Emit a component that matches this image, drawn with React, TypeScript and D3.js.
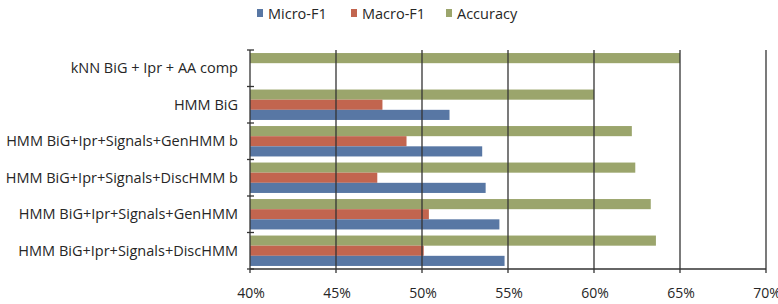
import React, { useEffect, useRef } from 'react';
import * as d3 from 'd3';

const categories = [
  'kNN BiG + Ipr + AA comp',
  'HMM BiG',
  'HMM BiG+Ipr+Signals+GenHMM b',
  'HMM BiG+Ipr+Signals+DiscHMM b',
  'HMM BiG+Ipr+Signals+GenHMM',
  'HMM BiG+Ipr+Signals+DiscHMM',
];
const seriesNames = ['Accuracy', 'Macro-F1', 'Micro-F1'];
const accuracy = [65.0, 60.0, 62.2, 62.4, 63.3, 63.6];
const macroF1 = [null, 47.7, 49.1, 47.4, 50.4, 50.1];
const microF1 = [null, 51.6, 53.5, 53.7, 54.5, 54.8];
const xTicks = [40, 45, 50, 55, 60, 65, 70];
const legendOrder = ['Micro-F1', 'Macro-F1', 'Accuracy'];

const colors: Record<string, string> = {
  'Micro-F1': '#5877a4',
  'Macro-F1': '#c2654f',
  'Accuracy': '#9ba56c',
};

const FONT = '"Open Sans", "Liberation Sans", sans-serif';

export default function App() {
  const svgRef = useRef<SVGSVGElement>(null);

  useEffect(() => {
    if (!svgRef.current) return;
    const svg = d3.select(svgRef.current);
    svg.selectAll('*').remove();

    const left = 250;
    const right = 766;
    const top = 50;
    const bottom = 269;

    const x = d3.scaleLinear().domain([40, 70]).range([left, right]);
    const y = d3.scaleBand<string>().domain(categories).range([top, bottom]);
    const inner = d3.scaleBand<string>()
      .domain(seriesNames)
      .range([0, y.bandwidth()])
      .paddingOuter(0.3)
      .paddingInner(0);

    const values: Record<string, (number | null)[]> = {
      'Accuracy': accuracy,
      'Macro-F1': macroF1,
      'Micro-F1': microF1,
    };

    // bars
    seriesNames.forEach((s) => {
      categories.forEach((c, i) => {
        const v = values[s][i];
        if (v == null) return;
        svg.append('rect')
          .attr('x', x(40))
          .attr('y', (y(c) as number) + (inner(s) as number))
          .attr('width', x(v) - x(40))
          .attr('height', inner.bandwidth())
          .attr('fill', colors[s]);
      });
    });

    // vertical gridlines
    xTicks.slice(1).forEach((t) => {
      svg.append('line')
        .attr('x1', x(t)).attr('x2', x(t))
        .attr('y1', top).attr('y2', bottom + 4)
        .attr('stroke', '#333').attr('stroke-width', 1.3);
    });

    // axes
    svg.append('line')
      .attr('x1', left).attr('x2', left)
      .attr('y1', top).attr('y2', bottom + 4)
      .attr('stroke', '#333').attr('stroke-width', 1.3);
    svg.append('line')
      .attr('x1', left).attr('x2', right)
      .attr('y1', bottom).attr('y2', bottom)
      .attr('stroke', '#333').attr('stroke-width', 1.3);

    // category ticks on y axis (cross the axis)
    const yTickPos = categories.map((c) => y(c) as number).concat([bottom]);
    yTickPos.forEach((p) => {
      svg.append('line')
        .attr('x1', left - 3).attr('x2', left + 4)
        .attr('y1', p).attr('y2', p)
        .attr('stroke', '#333').attr('stroke-width', 1.3);
    });

    // x tick labels
    xTicks.forEach((t) => {
      svg.append('text')
        .attr('x', x(t) + 1)
        .attr('y', 294)
        .attr('text-anchor', 'middle')
        .attr('dominant-baseline', 'middle')
        .attr('font-family', FONT)
        .attr('font-size', '14px')
        .attr('fill', '#262626')
        .text(`${t}%`);
    });

    // category labels
    categories.forEach((c) => {
      svg.append('text')
        .attr('x', 238)
        .attr('y', (y(c) as number) + y.bandwidth() / 2 + 1)
        .attr('text-anchor', 'end')
        .attr('dominant-baseline', 'middle')
        .attr('font-family', FONT)
        .attr('font-size', '14.5px')
        .attr('fill', '#262626')
        .text(c);
    });

    // legend
    const legendX = [257, 351, 446];
    legendOrder.forEach((s, i) => {
      svg.append('rect')
        .attr('x', legendX[i]).attr('y', 9)
        .attr('width', 6).attr('height', 8)
        .attr('fill', colors[s]);
      svg.append('text')
        .attr('x', legendX[i] + 11)
        .attr('y', 15)
        .attr('dominant-baseline', 'middle')
        .attr('font-family', FONT)
        .attr('font-size', '14.5px')
        .attr('fill', '#262626')
        .text(s);
    });
  }, []);

  return (
    <svg
      ref={svgRef}
      width={778}
      height={304}
      style={{ position: 'absolute', left: 0, top: 0, background: '#fff' }}
    />
  );
}
